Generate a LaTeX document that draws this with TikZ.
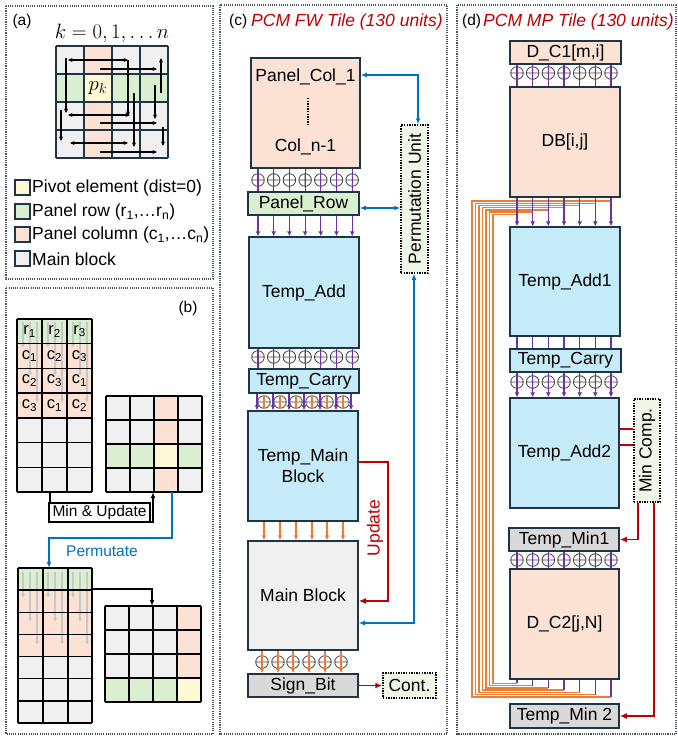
\documentclass[tikz,border=0pt]{standalone}
\usepackage{fontspec}
\setmainfont{Liberation Sans}
\usetikzlibrary{arrows.meta,calc}
\definecolor{cpink}{HTML}{FBE2D5}
\definecolor{cgreen}{HTML}{D9EFD0}
\definecolor{cblue}{HTML}{C5EBF8}
\definecolor{cgray}{HTML}{F0F0F0}
\definecolor{cdgray}{HTML}{D9D9D9}
\definecolor{cyellow}{HTML}{FFF8D5}
\definecolor{cborder}{HTML}{1E3545}
\definecolor{cpurple}{HTML}{7030A0}
\definecolor{corange}{HTML}{ED7D31}
\definecolor{cbl}{HTML}{0070C0}
\definecolor{cred}{HTML}{C00000}
\definecolor{cdot}{HTML}{EEF6E8}
\definecolor{cframe}{HTML}{4A5560}
\newcommand\oplat[2]{\draw[oplstyle] (#1,#2) circle[radius=6.3] ({#1-6.3},#2) -- ({#1+6.3},#2) (#1,{#2-6.3}) -- (#1,{#2+6.3});}
\begin{document}
\begin{tikzpicture}[x=1pt,y=-1pt,
  fnt/.style={font=\fontsize{17.5}{21}\selectfont},
  fsm/.style={font=\fontsize{15.5}{18}\selectfont},
  box/.style={draw=cborder, line width=1.5pt, inner sep=0pt},
  panelframe/.style={draw=cframe, line width=1.2pt, dash pattern=on 1.1pt off 1.1pt},
  dbox/.style={draw=black, line width=1.5pt, dash pattern=on 1.4pt off 1.2pt, fill=cdot, inner sep=0pt},
  oplstyle/.style={draw=black!75, line width=0.8pt},
  parr/.style={draw=cpurple, line width=1.2pt, -{Latex[length=5pt,width=5pt]}},
  pline/.style={draw=cpurple, line width=1.2pt},
  oarr/.style={draw=corange, line width=1.2pt, -{Latex[length=5pt,width=5pt]}},
  arrA/.style={draw=black, line width=1.1pt, -{Stealth[length=4.5pt,width=4pt]}},
  arrAA/.style={draw=black, line width=1.1pt, {Stealth[length=4.5pt,width=4pt]}-{Stealth[length=4.5pt,width=4pt]}},
  garr/.style={draw=black!22, line width=1.4pt, -{Latex[length=4pt,width=4pt]}},
  gl/.style={draw=cborder, line width=1.5pt},
  bl/.style={draw=black, line width=1.4pt},
  blarr/.style={draw=cbl, line width=1.4pt, {Latex[length=6pt,width=5pt]}-{Latex[length=6pt,width=5pt]}},
  redarr/.style={draw=cred, line width=1.5pt, -{Latex[length=7pt,width=6pt]}},
]
\useasboundingbox (0,0) rectangle (678,737);
% ---------- panel frames
\draw[panelframe] (6,6) rectangle (213,279);
\draw[panelframe] (6,288) rectangle (213,734);
\draw[panelframe] (220,5) rectangle (447,734);
\draw[panelframe] (457,5) rectangle (676,734);

% ================= (a)
\node[fsm] (la) at (22,21) {(a)};
\node[font=\fontsize{20.74}{24}\selectfont] (kn) at (112,33) {$k=0,1,\ldots n$};
\fill[cgray] (56,46) rectangle (168,158);
\fill[cpink] (84,46) rectangle (112,158);
\fill[cgreen] (56,74) rectangle (168,102);
\fill[cyellow] (84,74) rectangle (112,102);
\foreach \i in {0,...,4} {
  \draw[gl] ({56+28*\i},46) -- ({56+28*\i},158);
  \draw[gl] (56,{46+28*\i}) -- (168,{46+28*\i});
}
\node[inner sep=0pt, minimum size=112pt] (gA) at (112,102) {};
\node[font=\fontsize{20.74}{24}\selectfont] (pk) at (98,88) {$p_k$};
\draw[arrAA] (68,60) -- (128,60);
\draw[arrA] (66,58) -- (66,113);
\draw[arrA] (100,69) -- (157,69);
\draw[arrAA] (68,115) -- (130,115);
\draw[arrA] (128,60) -- (128,116);
\draw[arrA] (134,93) -- (134,147);
\draw[arrA] (161,93) -- (161,58);
\draw[arrA] (155,85) -- (155,119);
\draw[arrA] (100,123) -- (157,123);
\draw[arrA] (61,110) -- (61,141);
\draw[arrAA] (70,143) -- (128,143);
\draw[arrA] (163,127) -- (163,146);
\draw[arrA] (100,152) -- (157,152);
% legend
\draw[cborder, line width=1.2pt, fill=cyellow] (15,180) rectangle (30,195);
\draw[cborder, line width=1.2pt, fill=cgreen] (15,204) rectangle (30,219);
\draw[cborder, line width=1.2pt, fill=cpink] (15,227) rectangle (30,242);
\draw[cborder, line width=1.2pt, fill=cgray] (15,251) rectangle (30,266);
\node[fnt, anchor=west, inner sep=0pt] (lg1) at (32,188) {Pivot element (dist=0)};
\node[fnt, anchor=west, inner sep=0pt] (lg2) at (32,212) {Panel row (r\textsubscript{1},…r\textsubscript{n})};
\node[fnt, anchor=west, inner sep=0pt] (lg3) at (32,235) {Panel column (c\textsubscript{1},…c\textsubscript{n})};
\node[fnt, anchor=west, inner sep=0pt] (lg4) at (32,259) {Main block};

% ================= (b)
\node[fsm] (lb) at (188,308) {(b)};
% top-left table
\fill[cgreen] (17,319) rectangle (92,343.7);
\fill[cpink] (17,343.7) rectangle (92,418.1);
\fill[cgray] (17,418.1) rectangle (92,492);
\foreach \L in {17,42,67} {
  \draw[garr] ({\L+6},322) -- ({\L+6},348);
  \draw[garr] ({\L+13},322) -- ({\L+13},376);
  \draw[garr] ({\L+20},322) -- ({\L+20},403);
}
\foreach \i in {0,...,7} \draw[bl] (17,{319+24.71*\i}) -- (92,{319+24.71*\i});
\foreach \xx in {17,42,67,92} \draw[bl] (\xx,319) -- (\xx,492);
\node[inner sep=0pt, minimum width=75pt, minimum height=173pt] (tabA) at (54.5,405.5) {};
\foreach \t [count=\c from 0] in {r\textsubscript{1},r\textsubscript{2},r\textsubscript{3}}
  \node[font=\fontsize{16.5}{18}\selectfont] (ra\c) at ({29.5+25*\c},331.3) {\t};
\foreach \t [count=\c from 0] in {c\textsubscript{1},c\textsubscript{2},c\textsubscript{3}}
  \node[font=\fontsize{16.5}{18}\selectfont] (rb\c) at ({29.5+25*\c},356) {\t};
\foreach \t [count=\c from 0] in {c\textsubscript{2},c\textsubscript{3},c\textsubscript{1}}
  \node[font=\fontsize{16.5}{18}\selectfont] (rc\c) at ({29.5+25*\c},380.7) {\t};
\foreach \t [count=\c from 0] in {c\textsubscript{3},c\textsubscript{1},c\textsubscript{2}}
  \node[font=\fontsize{16.5}{18}\selectfont] (rd\c) at ({29.5+25*\c},405.4) {\t};
% top-right grid
\fill[cgray] (106,396) rectangle (202,492);
\fill[cpink] (154,396) rectangle (178,492);
\fill[cgreen] (106,444) rectangle (202,468);
\fill[cyellow] (154,444) rectangle (178,468);
\foreach \i in {0,...,4} {
  \draw[bl] ({106+24*\i},396) -- ({106+24*\i},492);
  \draw[bl] (106,{396+24*\i}) -- (202,{396+24*\i});
}
\node[inner sep=0pt, minimum size=96pt] (gridB) at (154,444) {};
% lower-left table
\fill[cgreen] (18,568) rectangle (92,590.1);
\fill[cpink] (18,590.1) rectangle (92,656.6);
\fill[cgray] (18,656.6) rectangle (92,723);
\foreach \L in {18,43,68} {
  \draw[garr] ({\L+5},572) -- ({\L+5},598);
  \draw[garr] ({\L+12},572) -- ({\L+12},622);
  \draw[garr] ({\L+19},572) -- ({\L+19},645);
}
\foreach \i in {0,...,7} \draw[bl] (18,{568+22.14*\i}) -- (92,{568+22.14*\i});
\foreach \xx in {18,43,68,92} \draw[bl] (\xx,568) -- (\xx,723);
\node[inner sep=0pt, minimum width=74pt, minimum height=155pt] (tabC) at (55,645.5) {};
% lower-right grid
\fill[cgray] (105,606) rectangle (201,702);
\fill[cpink] (177,606) rectangle (201,702);
\fill[cgreen] (105,678) rectangle (201,702);
\fill[cyellow] (177,678) rectangle (201,702);
\foreach \i in {0,...,4} {
  \draw[bl] ({105+24*\i},606) -- ({105+24*\i},702);
  \draw[bl] (105,{606+24*\i}) -- (201,{606+24*\i});
}
\node[inner sep=0pt, minimum size=96pt] (gridD) at (153,654) {};
% connectors (b)
\draw[black, line width=1.3pt, -{Latex[length=6pt,width=5pt]}] (50,0 |- tabA.south) -- (50,522) -- (153,522) -- (153,0 |- gridB.south);
\node[draw=black, line width=1.3pt, fill=white, fsm, minimum width=101pt, minimum height=19pt, inner sep=0pt] (mu) at (99.5,512.5) {Min \& Update};
\draw[cbl, line width=1.4pt, -{Latex[length=6pt,width=5pt]}] (172,0 |- gridB.south) -- (172,538) -- (49,538) -- (49,0 |- tabC.north);
\node[cbl, fsm] (permt) at (102,551) {Permutate};
\draw[black, line width=1.3pt, -{Latex[length=6pt,width=5pt]}] (tabC.east |- 0,589) -- (152,589) -- (152,0 |- gridD.north);

% ================= (c)
\node[fsm, anchor=west, inner sep=0pt] (lc) at (229,21) {(c)};
\node[fnt, anchor=west, inner sep=0pt, text=cred] (tc) at (251,22) {\itshape PCM FW Tile (130 units)};
\node[box, fill=cpink, minimum width=109pt, minimum height=110pt] (pcol) at (305.5,113) {};
\node[fnt] (pc1) at (305.5,77) {Panel\_Col\_1};
\draw[line width=1.8pt, dash pattern=on 1.3pt off 1.3pt] (308,98) -- (308,125);
\node[fnt] (pc2) at (305.5,147) {Col\_n-1};
\node[box, fill=cgreen, fnt, minimum width=111pt, minimum height=23pt] (prow) at (303.5,203.5) {Panel\_Row};
\node[box, fill=cblue, fnt, minimum width=110pt, minimum height=111pt] (tadd) at (304,292.5) {Temp\_Add};
\node[box, fill=cblue, fnt, minimum width=110pt, minimum height=24pt] (tcar) at (304,381) {Temp\_Carry};
\node[box, fill=cblue, fnt, minimum width=110pt, minimum height=110pt, align=center] (tmain) at (303,466) {Temp\_Main\\Block};
\node[box, fill=cgray, fnt, minimum width=110pt, minimum height=109pt] (mblk) at (303,595.5) {Main Block};
\node[box, fill=cdgray, fnt, minimum width=110pt, minimum height=23pt] (sbit) at (303,685.5) {Sign\_Bit};
\node[dbox, fnt, minimum width=53pt, minimum height=25pt] (cont) at (409.5,685.5) {Cont.};
\node[dbox, minimum width=27pt, minimum height=148pt] (perm) at (414.5,199) {};
\node[fnt, rotate=90] (permtx) at (perm.center) {Permutation Unit};
\def\xc{258,273.7,289.4,305.1,320.8,336.5,352.2}
\foreach \x in \xc {
  \oplat{\x}{180}
  \draw[pline] (\x,0 |- pcol.south) -- (\x,0 |- prow.north);
  \draw[parr] (\x,0 |- prow.south) -- (\x,0 |- tadd.north);
  \oplat{\x}{357}
  \draw[pline] (\x,0 |- tadd.south) -- (\x,0 |- tcar.north);
}
\foreach \x in {264,280,296,312,327,343} {
  \oplat{\x}{402}
  \draw[draw=corange, line width=1.1pt] (\x,395) -- (\x,409);
}
\foreach \x in {257,273,289,304,320,336,351}
  \draw[parr] (\x,0 |- tcar.south) -- (\x,0 |- tmain.north);
\foreach \x in {264,280,296,312,327,343}
  \draw[oarr] (\x,0 |- tmain.south) -- (\x,0 |- mblk.north);
\foreach \x in {262,278,293,309,325,341} {
  \oplat{\x}{662}
  \draw[oarr] (\x,0 |- mblk.south) -- (\x,0 |- sbit.north);
}
\draw[blarr] (pcol.east |- 0,75) -- (418,75) -- (418,0 |- perm.north);
\draw[blarr] (prow.east |- 0,208) -- (perm.west |- 0,208);
\draw[blarr] (414,0 |- perm.south) -- (414,623) -- (mblk.east |- 0,623);
\draw[redarr] (tmain.east |- 0,462) -- (388,462) -- (388,601) -- (mblk.east |- 0,601);
\node[fnt, text=cred, rotate=90] (upd) at (375,528) {Update};
\draw[redarr] (sbit.east) -- (cont.west);

% ================= (d)
\node[fsm, anchor=west, inner sep=0pt] (ld) at (462,21) {(d)};
\node[fnt, anchor=west, inner sep=0pt, text=cred] (td) at (483,22) {\itshape PCM MP Tile (130 units)};
\node[box, fill=cpink, fnt, minimum width=111pt, minimum height=23pt] (dc1) at (565.5,52.5) {D\_C1[m,i]};
\node[box, fill=cpink, fnt, minimum width=110pt, minimum height=110pt] (db) at (565,142) {DB[i,j]};
\node[box, fill=cblue, fnt, minimum width=110pt, minimum height=109pt] (ta1) at (565,281.5) {Temp\_Add1};
\node[box, fill=cblue, fnt, minimum width=111pt, minimum height=23pt] (tc2) at (565.5,360.5) {Temp\_Carry};
\node[box, fill=cblue, fnt, minimum width=109pt, minimum height=110pt] (ta2) at (564.5,453) {Temp\_Add2};
\node[box, fill=cdgray, fnt, minimum width=110pt, minimum height=23pt] (tm1) at (564,539.5) {Temp\_Min1};
\node[box, fill=cpink, fnt, minimum width=109pt, minimum height=110pt] (dc2) at (564.5,624) {D\_C2[j,N]};
\node[box, fill=cdgray, fnt, minimum width=109pt, minimum height=24pt] (tm2) at (564.5,716) {Temp\_Min 2};
\node[dbox, minimum width=26pt, minimum height=103pt] (mc) at (647,450.5) {};
\node[fnt, rotate=90] (mctx) at (mc.center) {Min Comp.};
% orange bundle
\foreach \k in {0,...,6} {
  \pgfmathsetmacro\xx{611-15.667*\k}
  \pgfmathsetmacro\yt{201+2.2*\k}
  \pgfmathsetmacro\xl{472+3.5*\k}
  \pgfmathsetmacro\yb{697-2.3*\k}
  \draw[corange, line width=1.4pt] (\xx,\yt) -- (\xl,\yt) -- (\xl,\yb) -- (\xx,\yb);
  \draw[pline] (\xx,0 |- dc2.south) -- (\xx,\yb);
}
\def\xd{517,532.7,548.3,564,579.7,595.3,611}
\foreach \x in \xd {
  \oplat{\x}{73}
  \draw[pline] (\x,0 |- dc1.south) -- (\x,0 |- db.north);
  \draw[parr] (\x,0 |- db.south) -- (\x,0 |- ta1.north);
  \draw[pline] (\x,0 |- ta1.south) -- (\x,0 |- tc2.north);
  \oplat{\x}{382}
  \draw[parr] (\x,0 |- tc2.south) -- (\x,0 |- ta2.north);
  \oplat{\x}{560}
  \draw[pline] (\x,0 |- tm1.south) -- (\x,0 |- dc2.north);
}
\draw[cred, line width=1.5pt] (ta2.east |- 0,429) -- (mc.west |- 0,429);
\draw[cred, line width=1.5pt] (ta2.east |- 0,445) -- (mc.west |- 0,445);
\draw[redarr] (638,0 |- mc.south) |- (tm1.east);
\draw[redarr] (654,0 |- mc.south) |- (tm2.east);
\end{tikzpicture}
\end{document}
